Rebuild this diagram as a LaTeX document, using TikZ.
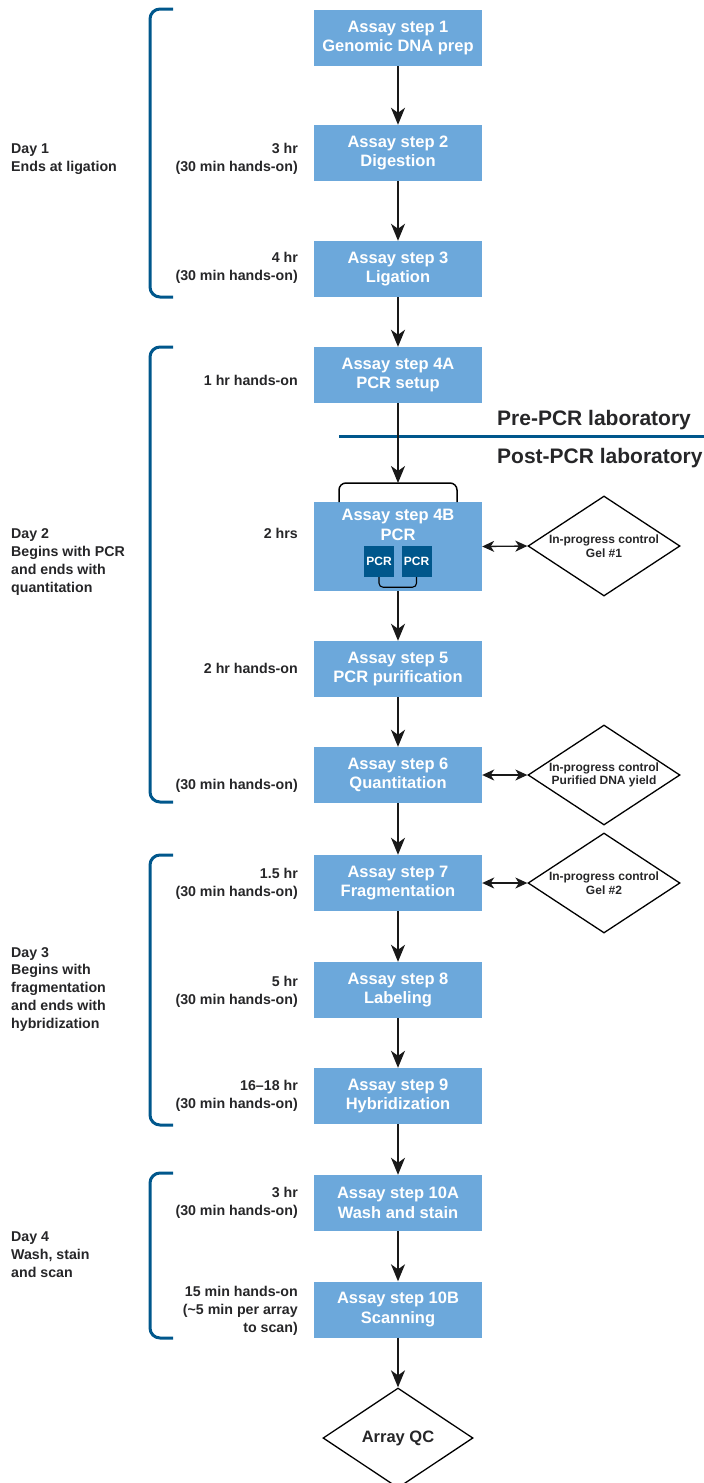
\documentclass[tikz,border=0pt]{standalone}
\usepackage{fontspec}
\setmainfont{Liberation Sans}
\usetikzlibrary{arrows.meta,shapes.geometric,positioning}
\definecolor{assayblue}{RGB}{108,168,219}
\definecolor{daynavy}{RGB}{0,87,140}
\definecolor{labelgrey}{RGB}{38,38,40}

\begin{document}
\begin{tikzpicture}[
    x=1pt, y=-1pt,
    stepbox/.style={rectangle, fill=assayblue, text=white, minimum width=168, minimum height=56,
        inner sep=0pt, align=center, font=\fontsize{16.5}{19.5}\selectfont\bfseries},
    pcrbox/.style={rectangle, fill=daynavy, text=white, minimum width=30, minimum height=31,
        inner sep=0pt, font=\fontsize{12}{14}\selectfont\bfseries},
    ctrl/.style={diamond, draw, line width=1.3pt, fill=white, minimum width=152, minimum height=100,
        aspect=1.52, inner sep=0pt, align=center, text=labelgrey, font=\fontsize{12}{13.5}\selectfont\bfseries},
    timelbl/.style={anchor=base east, align=right, inner sep=0pt, text=labelgrey,
        font=\fontsize{14.2}{17.7}\selectfont\bfseries},
    daylbl/.style={anchor=base west, align=left, inner sep=0pt, text=labelgrey,
        font=\fontsize{14.2}{17.7}\selectfont\bfseries},
    lablbl/.style={anchor=base west, inner sep=0pt, text=labelgrey, font=\fontsize{21}{24}\selectfont\bfseries},
    daybracket/.style={draw=daynavy, line width=3pt, rounded corners=10pt},
    arr/.style={-{Stealth[length=17pt, width=14pt, inset=5pt]}, line width=1.8pt, draw=black!90},
    dblarr/.style={{Stealth[length=12pt, width=11pt, inset=3.5pt]}-{Stealth[length=12pt, width=11pt, inset=3.5pt]},
        line width=1.3pt, draw=black!90},
]
    \useasboundingbox (0,0) rectangle (704,1483);

    % day brackets
    \foreach \ya/\yb in {9/297, 347/802, 855/1125, 1173/1338}
        \draw[daybracket] (173,\ya) -- (150,\ya) -- (150,\yb) -- (173,\yb);
    \node[daylbl] (d1) at (11,171) {Day 1\\Ends at ligation};
    \node[daylbl] (d2) at (11,592) {Day 2\\Begins with PCR\\and ends with\\quantitation};
    \node[daylbl] (d3) at (11,1028) {Day 3\\Begins with\\fragmentation\\and ends with\\hybridization};
    \node[daylbl] (d4) at (11,1277) {Day 4\\Wash, stain\\and scan};

    % assay steps
    \foreach \name/\y/\txt in {s1/38/{Assay step 1\\Genomic DNA prep}, s2/153/{Assay step 2\\Digestion},
        s3/269/{Assay step 3\\Ligation}, s4a/375/{Assay step 4A\\PCR setup},
        s5/669/{Assay step 5\\PCR purification}, s6/775/{Assay step 6\\Quantitation},
        s7/883/{Assay step 7\\Fragmentation}, s8/990/{Assay step 8\\Labeling},
        s9/1096/{Assay step 9\\Hybridization}, s10a/1203/{Assay step 10A\\Wash and stain},
        s10b/1309.5/{Assay step 10B\\Scanning}}
        \node[stepbox] (\name) at (398,\y) {\txt};
    \node[stepbox, minimum height=89] (s4b) at (398,546.5) {};
    \node[anchor=base, align=center, inner sep=0pt, text=white, font=\fontsize{16.5}{20}\selectfont\bfseries]
        (s4b-t) at (398,540) {Assay step 4B\\PCR};
    \node[pcrbox] (pcr1) at (379,561.5) {PCR};
    \node[pcrbox] (pcr2) at (416.5,561.5) {PCR};
    \draw[line width=1.1pt, rounded corners=4pt] (pcr1.south) -- ++(0,10) -| (pcr2.south);

    % pre / post PCR split
    \draw[draw=daynavy, line width=3pt] (339,436) -- (704,436);
    \node[lablbl] (pre) at (497,425) {Pre-PCR laboratory};
    \node[lablbl] (post) at (497,463) {Post-PCR laboratory};

    \coordinate (pcrtop) at (398,483);
    \draw[line width=1.5pt, rounded corners=7pt] (339,502) -- (339,483) -- (457,483) -- (457,502);

    % controls
    \node[ctrl] (gel1) at (604,546) {In-progress control\\Gel \#1};
    \node[ctrl] (yield) at (604,775) {In-progress control\\Purified DNA yield};
    \node[ctrl] (gel2) at (604,883) {In-progress control\\Gel \#2};
    \node[ctrl, minimum width=150, aspect=1.5, font=\fontsize{16.5}{19}\selectfont\bfseries] (qc) at (398,1438) {Array QC};

    \foreach \a/\b in {s1/s2, s2/s3, s3/s4a, s4a/pcrtop, s4b/s5, s5/s6, s6/s7, s7/s8, s8/s9, s9/s10a, s10a/s10b, s10b/qc}
        \draw[arr] (\a) -- (\b);
    \foreach \a/\b in {s4b/gel1, s6/yield, s7/gel2}
        \draw[dblarr] (\a.east) -- (\b.west);

    % times
    \node[timelbl] (t2) at (298,171) {3 hr\\(30 min hands-on)};
    \node[timelbl] (t3) at (298,280) {4 hr\\(30 min hands-on)};
    \node[timelbl] (t4a) at (298,385) {1 hr hands-on};
    \node[timelbl] (t4b) at (298,538) {2 hrs};
    \node[timelbl] (t5) at (298,673) {2 hr hands-on};
    \node[timelbl] (t6) at (298,789) {(30 min hands-on)};
    \node[timelbl] (t7) at (298,896) {1.5 hr\\(30 min hands-on)};
    \node[timelbl] (t8) at (298,1004) {5 hr\\(30 min hands-on)};
    \node[timelbl] (t9) at (298,1108) {16–18 hr\\(30 min hands-on)};
    \node[timelbl] (t10a) at (298,1215) {3 hr\\(30 min hands-on)};
    \node[timelbl] (t10b) at (298,1332) {15 min hands-on\\(\textasciitilde5 min per array\hspace{5pt}\\to scan)};
\end{tikzpicture}
\end{document}
